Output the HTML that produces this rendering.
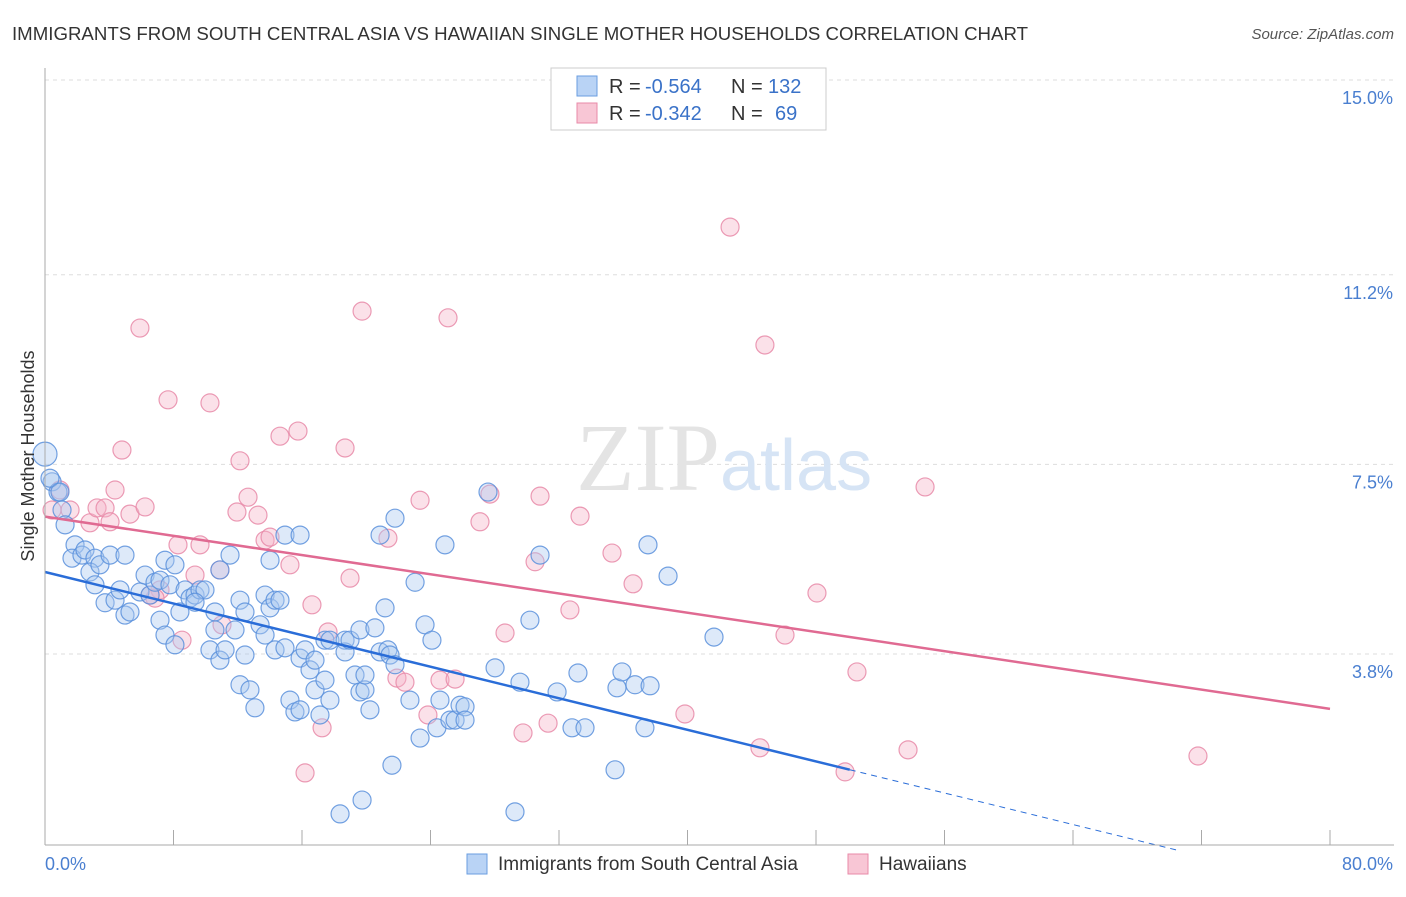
<!DOCTYPE html>
<html><head><meta charset="utf-8"><style>
body{margin:0;background:#fff;font-family:"Liberation Sans",sans-serif}
</style></head><body>
<svg width="1406" height="892" xmlns="http://www.w3.org/2000/svg">
<text x="12" y="40" font-size="18" fill="#333" textLength="1016" lengthAdjust="spacingAndGlyphs">IMMIGRANTS FROM SOUTH CENTRAL ASIA VS HAWAIIAN SINGLE MOTHER HOUSEHOLDS CORRELATION CHART</text>
<text x="1394" y="39" font-size="15" fill="#555" font-style="italic" text-anchor="end">Source: ZipAtlas.com</text>
<g id="grid"></g>
<text x="720" y="490" font-size="96" fill="#e4e4e4" text-anchor="end" font-family="Liberation Serif">ZIP</text>
<text x="720" y="490" font-size="72" fill="#d6e4f5">atlas</text>
<g id="pts"></g>
<g id="axes"></g>
<text transform="translate(34,456) rotate(-90)" font-size="18" fill="#333" text-anchor="middle">Single Mother Households</text>
<text x="45" y="870" font-size="18" fill="#4a7fd0">0.0%</text>
<text x="1393" y="870" font-size="18" fill="#4a7fd0" text-anchor="end">80.0%</text>
<g>
<rect x="551" y="68" width="275" height="62" fill="#fff" stroke="#ccc"/>
<rect x="577" y="76" width="20" height="20" fill="#b9d3f5" stroke="#6a9ee0"/>
<rect x="577" y="103" width="20" height="20" fill="#f8c6d5" stroke="#e88aa8"/>
<text y="93" font-size="20" fill="#333"><tspan x="609">R =</tspan><tspan x="645" fill="#3a72c8">-0.564</tspan><tspan x="731">N =</tspan><tspan x="768" fill="#3a72c8">132</tspan></text>
<text y="120" font-size="20" fill="#333"><tspan x="609">R =</tspan><tspan x="645" fill="#3a72c8">-0.342</tspan><tspan x="731">N =</tspan><tspan x="775" fill="#3a72c8">69</tspan></text>
</g>
<g>
<rect x="467" y="854" width="20" height="20" fill="#b9d3f5" stroke="#6a9ee0"/>
<text x="498" y="870" font-size="19" fill="#333">Immigrants from South Central Asia</text>
<rect x="848" y="854" width="20" height="20" fill="#f8c6d5" stroke="#e88aa8"/>
<text x="879" y="870" font-size="19" fill="#333">Hawaiians</text>
</g>
</svg>
<script>
const yTicks=[3.8,7.5,11.2,15.0];
const yTickLabels=["3.8%","7.5%","11.2%","15.0%"];
const xTicks=[0,8,16,24,32,40,48,56,64,72,80];
const bluePx=[[52,482],[58,492],[62,510],[65,525],[75,545],[72,558],[82,555],[85,550],[95,558],[90,572],[100,565],[110,555],[125,555],[95,585],[105,603],[115,600],[120,590],[125,615],[130,612],[140,592],[145,575],[150,595],[155,582],[160,580],[165,560],[170,585],[175,565],[160,620],[165,635],[175,645],[180,612],[185,590],[190,598],[195,595],[200,590],[205,590],[195,602],[215,612],[220,570],[215,630],[210,650],[220,660],[225,650],[230,555],[235,630],[240,600],[245,612],[240,685],[245,655],[250,690],[255,708],[260,625],[265,635],[265,595],[270,560],[270,608],[275,600],[280,600],[275,650],[285,535],[285,648],[290,700],[295,712],[300,710],[300,535],[300,658],[305,650],[310,670],[315,660],[315,690],[320,715],[325,680],[330,700],[325,640],[330,640],[340,814],[345,640],[345,652],[350,640],[355,675],[360,692],[365,690],[360,630],[365,675],[370,710],[375,628],[380,652],[380,535],[385,608],[388,650],[390,655],[395,518],[395,665],[392,765],[410,700],[415,582],[420,738],[425,625],[432,640],[437,728],[440,700],[445,545],[450,720],[455,720],[460,705],[465,707],[465,720],[488,492],[495,668],[515,812],[520,682],[530,620],[540,555],[557,692],[572,728],[578,673],[585,728],[615,770],[617,688],[622,672],[635,685],[645,728],[648,545],[650,686],[668,576],[714,637],[362,800],[50,478],[60,492]];
const pinkPx=[[52,510],[60,490],[70,510],[90,523],[97,508],[105,508],[110,522],[115,490],[122,450],[130,514],[140,328],[145,507],[160,590],[168,400],[178,545],[182,640],[195,575],[200,545],[210,403],[220,570],[222,625],[237,512],[240,461],[248,497],[258,515],[265,540],[270,537],[280,436],[290,565],[298,431],[312,605],[322,728],[328,632],[345,448],[350,578],[362,311],[388,538],[397,678],[405,682],[420,500],[428,715],[440,680],[448,318],[455,679],[480,522],[490,494],[505,633],[523,733],[535,562],[540,496],[548,723],[570,610],[580,516],[612,553],[633,584],[730,227],[760,748],[765,345],[785,635],[817,593],[845,772],[857,672],[908,750],[925,487],[1198,756],[685,714],[305,773],[155,598],[150,595]];
const blueX=bluePx.map(p=>+((p[0]-45)/16.0625).toFixed(2)), blueY=bluePx.map(p=>+(15-(p[1]-80)/51.25).toFixed(2));
const pinkX=pinkPx.map(p=>+((p[0]-45)/16.0625).toFixed(2)), pinkY=pinkPx.map(p=>+(15-(p[1]-80)/51.25).toFixed(2));
const blueBig=[[0,7.7]];
const X=v=>45+v*16.0625, Y=v=>80+(15-v)*51.25;
const NS="http://www.w3.org/2000/svg";
function mk(t,a,parent){const e=document.createElementNS(NS,t);for(const k in a)e.setAttribute(k,a[k]);parent.appendChild(e);return e;}
const grid=document.getElementById('grid'),axes=document.getElementById('axes'),pts=document.getElementById('pts');
yTicks.forEach((t,i)=>{
 const l=mk('line',{x1:45,x2:1394,y1:Y(t),y2:Y(t),stroke:'#ddd','stroke-dasharray':'4,4'},grid);
 
 
 const tx=mk('text',{x:1393,y:Y(t)+24,'font-size':18,fill:'#4a7fd0','text-anchor':'end'},axes);
 tx.textContent=yTickLabels[i];
 
 
});
mk('line',{x1:45,x2:45,y1:68,y2:845,stroke:'#aaa'},axes);
mk('line',{x1:45,x2:1394,y1:845,y2:845,stroke:'#aaa'},axes);
xTicks.forEach(t=>{const l=mk('line',{x1:X(t),x2:X(t),y1:830,y2:845,stroke:'#aaa'},axes);
 
 });
function dot(x,y,r,f,s,name){const c=mk('circle',{cx:X(x),cy:Y(y),r:r,fill:f,'fill-opacity':0.4,stroke:s,'stroke-width':1.2,'stroke-opacity':0.85},pts);
 
 }
pinkX.forEach((x,i)=>dot(x,pinkY[i],9,'#f4b3c8','#e88aa8','hawaiians-point'));
blueX.forEach((x,i)=>dot(x,blueY[i],9,'#a9c8f0','#5a90dc','immigrants-point'));
blueBig.forEach(p=>dot(p[0],p[1],12,'#a9c8f0','#5a90dc','immigrants-point'));
const blueLine=[5.4,1.55], pinkLine=[6.48,2.73];
let l=mk('line',{x1:X(0),y1:Y(blueLine[0]),x2:X(50.1),y2:Y(blueLine[0]+(blueLine[1]-blueLine[0])*50.1/50),stroke:'#2a6dd8','stroke-width':2.5},pts);


const s=(blueLine[1]-blueLine[0])/50;
l=mk('line',{x1:X(50.1),y1:Y(blueLine[0]+s*50.1),x2:X(70.6),y2:Y(blueLine[0]+s*70.6),stroke:'#2a6dd8','stroke-width':1,'stroke-dasharray':'6,5'},pts);


l=mk('line',{x1:X(0),y1:Y(pinkLine[0]),x2:X(80),y2:Y(pinkLine[1]),stroke:'#e06a92','stroke-width':2.5},pts);


</script>
</body></html>
